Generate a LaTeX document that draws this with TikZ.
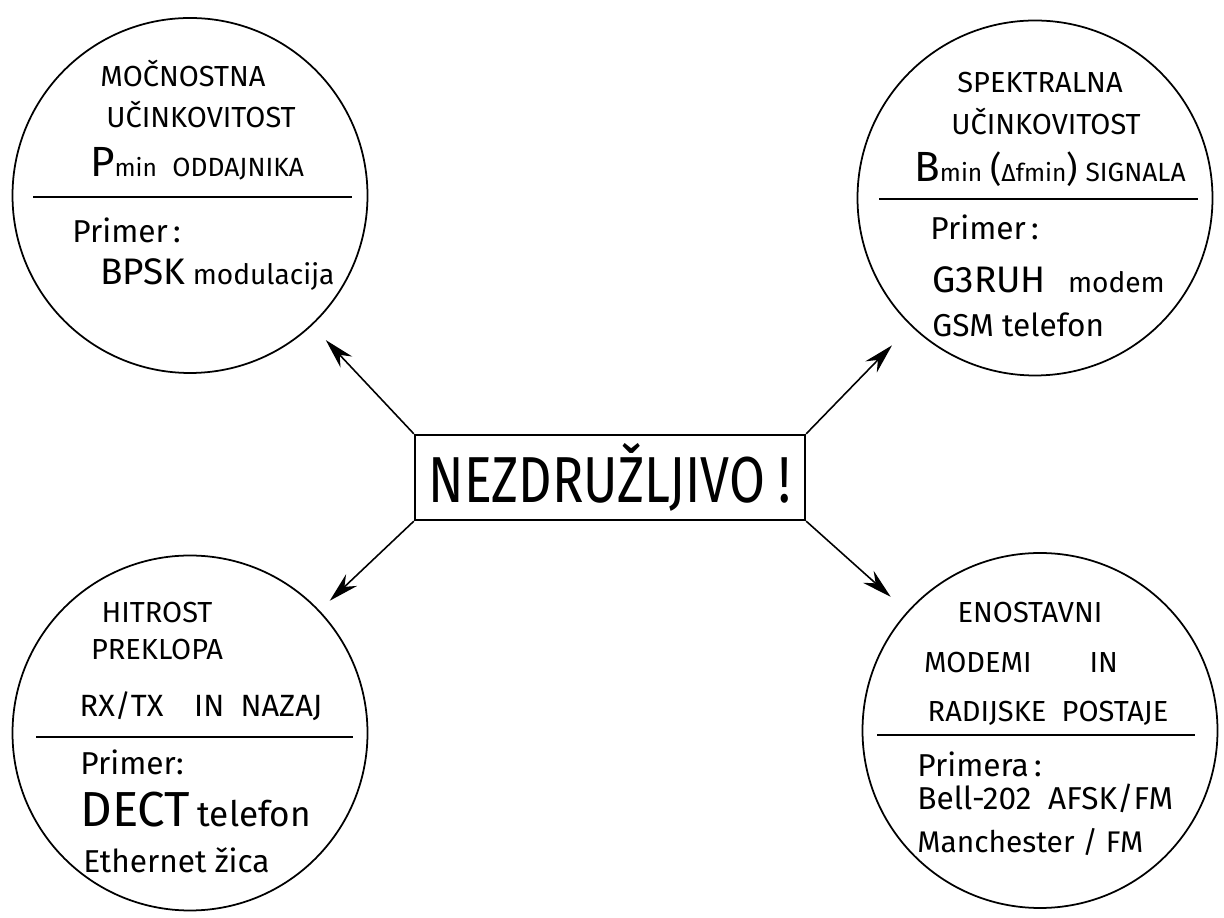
\documentclass[tikz,border=0pt]{standalone}
\usepackage{fontspec}
\setmainfont{Fira Sans}
\usetikzlibrary{arrows.meta}
\newcommand{\fsz}[1]{\fontsize{#1}{#1}\selectfont}
\tikzset{
  bubble/.style={circle, draw, line width=1pt, minimum size=7.1cm, inner sep=0pt},
  sep/.style={line width=1.5pt},
  head/.style={anchor=base, inner sep=0pt, font=\fsz{16.5}},
  ex/.style={anchor=base west, inner sep=0pt, font=\fsz{16}},
  arr/.style={-{Stealth[length=0.6cm, width=0.32cm]}, line width=0.9pt}
}
\begin{document}
\begin{tikzpicture}
\useasboundingbox (0,0) rectangle (24.48,18.36);
% the four bubbles
\node[bubble] (pwr) at (3.8,14.45) {};
\node[bubble] (spec) at (20.7,14.4) {};
\node[bubble] (sw) at (3.8,3.7) {};
\node[bubble] (simple) at (20.8,3.75) {};
\draw[sep] (0.66,14.42) -- (7.04,14.42);
\draw[sep] (17.58,14.38) -- (23.96,14.38);
\draw[sep] (0.72,3.62) -- (7.06,3.62);
\draw[sep] (17.54,3.66) -- (23.9,3.66);
% centre box
\node[draw, line width=1.3pt, minimum width=7.8cm, minimum height=1.7cm, inner sep=0pt,
  font=\fsz{37}] (nez) at (12.2,8.81) {\scalebox{0.8}[1]{NEZDRUŽLJIVO !}};
\draw[arr, shorten >=0.4cm] (nez.north west) -- (pwr);
\draw[arr, shorten >=0.54cm] (nez.north east) -- (spec);
\draw[arr, shorten >=0.28cm] (nez.south west) -- (sw);
\draw[arr, shorten >=0.44cm] (nez.south east) -- (simple);
% top left
\node[head] (pwr1) at (3.66,16.62) {MOČNOSTNA};
\node[head] (pwr2) at (4.02,15.8) {UČINKOVITOST};
\node[head] (pwr3) at (3.94,14.82) {{\fsz{24}P}{\fsz{14}min}\ \ {\fsz{15}ODDAJNIKA}};
\node[ex, font=\fsz{18}] (pwr4) at (1.44,13.5) {Primer\,:};
\node[ex] (pwr5) at (2.0,12.66) {{\fsz{21}BPSK} modulacija};
% top right
\node[head] (spec1) at (20.8,16.5) {SPEKTRALNA};
\node[head] (spec2) at (20.92,15.66) {UČINKOVITOST};
\node[head] (spec3) at (21.0,14.72) {{\fsz{24}B}{\fsz{14}min}\ {\fsz{20}(}{\fsz{14}Δfmin}{\fsz{20})}\ {\fsz{15}SIGNALA}};
\node[ex, font=\fsz{18}] (spec4) at (18.6,13.56) {Primer\,:};
\node[ex] (spec5) at (18.64,12.5) {{\fsz{21}G3RUH}\ \ \ modem};
\node[ex, font=\fsz{18}] (spec6) at (18.64,11.62) {GSM telefon};
% bottom left
\node[head] (sw1) at (3.14,5.9) {HITROST};
\node[head] (sw2) at (3.14,5.16) {PREKLOPA};
\node[head, font=\fsz{17.5}] (sw3) at (4.02,4.02) {RX/TX\quad IN\ \ NAZAJ};
\node[ex, font=\fsz{18}] (sw4) at (1.6,2.86) {Primer:};
\node[ex] (sw5) at (1.6,1.82) {{\fsz{28}DECT} {\fsz{20}telefon}};
\node[ex, font=\fsz{18}] (sw6) at (1.66,0.9) {Ethernet žica};
% bottom right
\node[head] (simple1) at (20.6,5.9) {ENOSTAVNI};
\node[head] (simple2) at (20.42,4.9) {MODEMI\qquad IN};
\node[head] (simple3) at (20.96,3.92) {RADIJSKE\ \ POSTAJE};
\node[ex, font=\fsz{18}] (simple4) at (18.34,2.82) {Primera\,:};
\node[ex, font=\fsz{18}] (simple5) at (18.34,2.16) {Bell-202\ \ AFSK/FM};
\node[ex, font=\fsz{17}] (simple6) at (18.34,1.3) {Manchester / FM};
\end{tikzpicture}
\end{document}
